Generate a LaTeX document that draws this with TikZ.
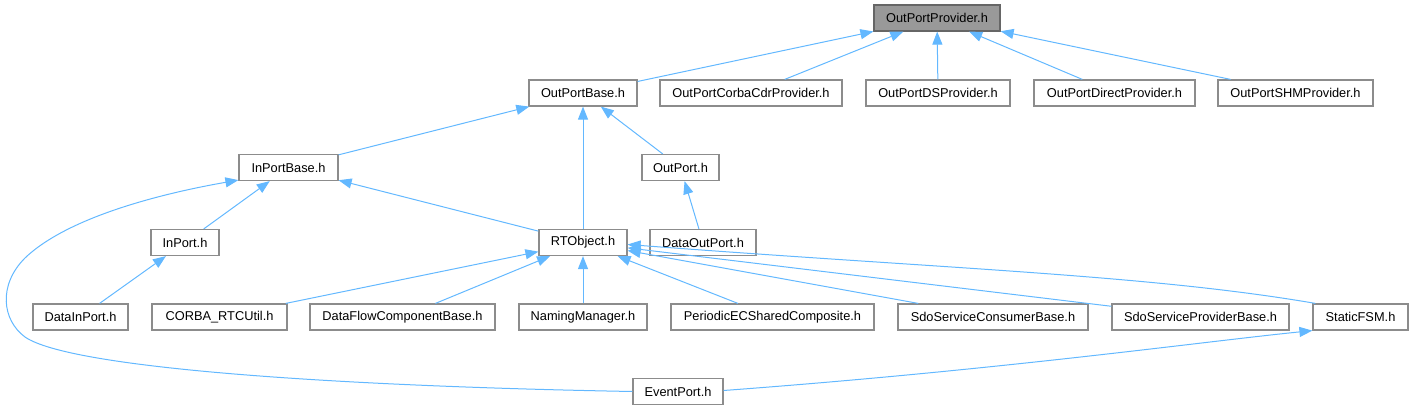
\documentclass[tikz,border=0pt]{standalone}
\usepackage{fontspec}
\setmainfont{Liberation Sans}
\usetikzlibrary{arrows.meta,calc}
\definecolor{bordercol}{HTML}{8C8C8C}
\definecolor{topfill}{HTML}{999999}
\definecolor{topborder}{HTML}{666666}
\definecolor{edgecol}{HTML}{63B8FF}
\tikzset{
  box/.style={draw=bordercol, fill=white, line width=1.2pt, minimum height=26pt, inner sep=0pt, font=\fontsize{12.8}{15}\selectfont},
  topbox/.style={box, fill=topfill, draw=topborder},
  edge/.style={draw=edgecol, line width=1pt, -{Triangle[length=13pt,width=10pt,fill=edgecol]}}
}
\begin{document}
\begin{tikzpicture}[x=1pt,y=-1pt]
\useasboundingbox (0,0) rectangle (1414,411);
% row 1
\node[topbox, minimum width=126] (opp) at (937,18) {OutPortProvider.h};
% row 2
\node[box, minimum width=108] (opb) at (583,93) {OutPortBase.h};
\node[box, minimum width=182] (opccp) at (751,93) {OutPortCorbaCdrProvider.h};
\node[box, minimum width=144] (opds) at (938,93) {OutPortDSProvider.h};
\node[box, minimum width=161] (opd) at (1114.5,93) {OutPortDirectProvider.h};
\node[box, minimum width=155] (opshm) at (1295.5,93) {OutPortSHMProvider.h};
% row 3
\node[box, minimum width=99] (ipb) at (288.5,167.5) {InPortBase.h};
\node[box, minimum width=77] (op) at (680.5,167.5) {OutPort.h};
% row 4
\node[box, minimum width=68] (ip) at (185,242.5) {InPort.h};
\node[box, minimum width=88] (rto) at (583,242.5) {RTObject.h};
\node[box, minimum width=106] (dop) at (703,242.5) {DataOutPort.h};
% row 5
\node[box, minimum width=95] (dip) at (80.5,317) {DataInPort.h};
\node[box, minimum width=135] (corba) at (219.5,317) {CORBA\_RTCUtil.h};
\node[box, minimum width=185] (dfcb) at (402.5,317) {DataFlowComponentBase.h};
\node[box, minimum width=128] (nm) at (583,317) {NamingManager.h};
\node[box, minimum width=203] (pecsc) at (772.5,317) {PeriodicECSharedComposite.h};
\node[box, minimum width=190] (sscb) at (993,317) {SdoServiceConsumerBase.h};
\node[box, minimum width=177] (sspb) at (1200.5,317) {SdoServiceProviderBase.h};
\node[box, minimum width=95] (sfsm) at (1360.5,317) {StaticFSM.h};
% row 6
\node[box, minimum width=90] (ep) at (678,391.5) {EventPort.h};
% edges
\draw[edge] (opb) -- (opp);
\draw[edge] (opccp) -- (opp);
\draw[edge] (opds) -- (opp);
\draw[edge] (opd) -- (opp);
\draw[edge] (opshm) -- (opp);
\draw[edge] (ipb) -- (opb);
\draw[edge] (rto) -- (opb);
\draw[edge] (op) -- (opb);
\draw[edge] (ip) -- (ipb);
\draw[edge] (rto) -- (ipb);
\draw[edge] (dop) -- (op);
\draw[edge] (dip) -- (ip);
\draw[edge] (corba) -- (rto);
\draw[edge] (dfcb) -- (rto);
\draw[edge] (nm) -- (rto);
\draw[edge] (pecsc) -- (rto);
\draw[edge] (sscb) -- (rto);
\draw[edge] (sspb) -- (rto);
\draw[edge] ($(sfsm.north west)+(3,0)$) .. controls (1150,275) and (950,269) .. ($(rto.east)+(0,2)$);
\draw[edge] (ep.west) .. controls (330,386) and (70,368) .. (25,337)
  .. controls (2,320) and (-2,285) .. (25,258)
  .. controls (70,215) and (170,192) .. ($(ipb.south west)+(0,-1)$);
\draw[edge] ($(ep.east)+(0,-1)$) .. controls (1000,370) and (1200,342) .. (sfsm.south west);
\end{tikzpicture}
\end{document}
